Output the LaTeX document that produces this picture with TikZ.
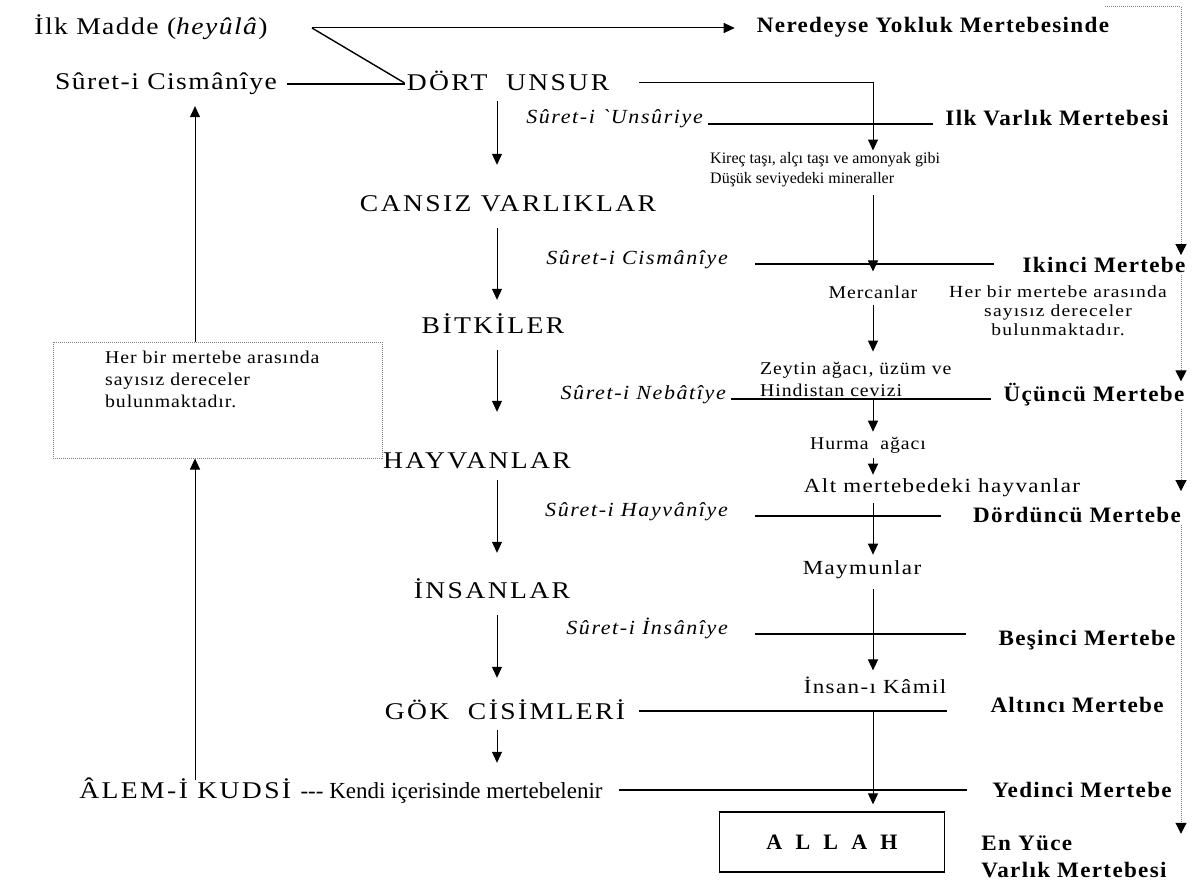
\documentclass[tikz,border=0pt]{standalone}
\usepackage{fontspec}
\setmainfont{Liberation Serif}
\newfontfamily\capfont[FakeStretch=1.15,LetterSpace=10]{Liberation Serif}
\newfontfamily\midfont[FakeStretch=1.15,LetterSpace=6]{Liberation Serif}
\newfontfamily\surfont[FakeStretch=1.1,LetterSpace=8]{Liberation Serif}
\newfontfamily\lvlfont[FakeStretch=1.05,LetterSpace=6]{Liberation Serif}
\newfontfamily\notefont[FakeStretch=1.1,LetterSpace=5]{Liberation Serif}
\newfontfamily\bignotefont[FakeStretch=1.15,LetterSpace=7]{Liberation Serif}
\newfontfamily\allahfont[LetterSpace=35]{Liberation Serif}
\usetikzlibrary{arrows.meta}
\begin{document}
\begin{tikzpicture}[x=1pt,y=-1pt,every node/.style={inner sep=2pt},
  stage/.style={font=\capfont\fontsize{24}{26}\selectfont,text height=16pt,text depth=0pt},
  lft/.style={font=\midfont\fontsize{24}{26}\selectfont},
  suret/.style={font=\surfont\itshape\fontsize{20}{22}\selectfont,anchor=base east},
  lvl/.style={font=\lvlfont\bfseries\fontsize{22}{27}\selectfont},
  note/.style={font=\notefont\fontsize{18}{22}\selectfont,align=left},
  bignote/.style={font=\bignotefont\fontsize{20}{24}\selectfont},
  arr/.style={-{Triangle[width=10pt,length=11pt]},line width=1pt},
  rule/.style={line width=1.4pt},
  dotarr/.style={densely dotted,gray,line width=1pt,-{Triangle[width=11pt,length=11pt,color=black]}}]
\useasboundingbox (0,0) rectangle (1200,891);
\fill[white] (0,0) rectangle (1200,891);
% left side
\node[lft] (ilk) at (151,27) {İlk Madde (\textit{heyûlâ})};
\node[lft] (sc) at (166,84) {Sûret-i Cismânîye};
\node[draw=gray,densely dotted,line width=1pt,minimum width=329pt,minimum height=116pt] (box) at (217.5,400) {};
\node[note,anchor=north west] (boxt) at (103,349) {Her bir mertebe arasında\\sayısız dereceler\\bulunmaktadır.};
% stages
\node[stage] (du) at (508,83) {DÖRT~~UNSUR};\node[stage] (cv) at (508,203) {CANSIZ VARLIKLAR};
\node[stage] (bt) at (493,325) {BİTKİLER};\node[stage] (hy) at (477,460) {HAYVANLAR};
\node[stage] (ins) at (492,590) {İNSANLAR};\node[stage] (gk) at (505,711) {GÖK~~CİSİMLERİ};
\node[stage] (alem) at (341,790) {ÂLEM-İ KUDSİ {\rmfamily\fontsize{23}{26}\selectfont -{}-{}- Kendi içerisinde mertebelenir}};
% suret labels
\node[suret] (s1) at (705,124) {Sûret-i `Unsûriye};\node[suret] (s2) at (730,264) {Sûret-i Cismânîye};
\node[suret] (s3) at (728,399) {Sûret-i Nebâtîye};\node[suret] (s4) at (730,516) {Sûret-i Hayvânîye};
\node[suret] (s5) at (730,634) {Sûret-i İnsânîye};
% levels
\node[lvl] (ny) at (933,27) {Neredeyse Yokluk Mertebesinde};
\node[lvl] (m1) at (1057,118) {Ilk Varlık Mertebesi};\node[lvl] (m2) at (1104,265) {Ikinci Mertebe};
\node[lvl] (m3) at (1094,395) {Üçüncü Mertebe};\node[lvl] (m4) at (1077,515) {Dördüncü Mertebe};
\node[lvl] (m5) at (1087,640) {Beşinci Mertebe};\node[lvl] (m6) at (1077,705) {Altıncı Mertebe};
\node[lvl] (m7) at (1082,790) {Yedinci Mertebe};\node[lvl,align=left] (m8) at (1074,857) {En Yüce\\Varlık Mertebesi};
% right column
\node[anchor=west,align=left,font=\fontsize{16}{20}\selectfont] (kir) at (708,170) {Kireç taşı, alçı taşı ve amonyak gibi\\Düşük seviyedeki mineraller};
\node[note] (mer) at (873,292) {Mercanlar};
\node[note,anchor=west] (zey) at (758,379) {Zeytin ağacı, üzüm ve\\Hindistan cevizi};
\node[note] (hur) at (868,445) {Hurma\ \ ağacı};
\node[bignote] (alt) at (942,488) {Alt mertebedeki hayvanlar};
\node[bignote] (may) at (862,570) {Maymunlar};\node[bignote] (ik) at (875,685) {İnsan-ı Kâmil};
\node[font=\bignotefont\fontsize{17}{19}\selectfont,align=center] (her) at (1058,311) {Her bir mertebe arasında\\sayısız dereceler\\bulunmaktadır.};
\node[draw,line width=1.3pt,minimum width=225pt,minimum height=60pt,font=\allahfont\bfseries\fontsize{22}{24}\selectfont] (allah) at (832,842) {A L L A H};
\coordinate (cx) at (497,0);\coordinate (rx) at (873,0);\coordinate (lx) at (195,0);
\coordinate (fork) at (312,28);\coordinate (rt) at (1181,7);\coordinate (dl) at (1105,7);
% top
\draw[arr,shorten >=20pt] (fork) -- (fork -| ny.west);
\draw[rule] (fork) -- (du.west);
\draw[rule,shorten <=8pt] (sc.east) -- (sc.east -| du.west);
% down the stages
\draw[arr,shorten <=8pt,shorten >=28pt] (du.south -| cx) -- (cv.north -| cx);
\draw[arr,shorten <=15pt,shorten >=15pt] (cv.south -| cx) -- (bt.north -| cx);
\draw[arr,shorten <=15pt,shorten >=38pt] (bt.south -| cx) -- (hy.north -| cx);
\draw[arr,shorten <=10pt,shorten >=27pt] (hy.south -| cx) -- (ins.north -| cx);
\draw[arr,shorten <=15pt,shorten >=23pt] (ins.south -| cx) -- (gk.north -| cx);
\draw[arr,shorten <=9pt,shorten >=17pt] (gk.south -| cx) -- (alem.north -| cx);
% back up on the left
\draw[arr] (alem.north -| lx) -- (box.south -| lx);
\draw[arr,shorten >=9pt] (box.north -| lx) -- (sc.south -| lx);
% right column
\draw[arr,shorten <=28pt] (du.east) -| (kir.north -| rx);
\draw[arr,shorten <=6pt,shorten >=12pt] (kir.south -| rx) -- (mer.north);
\draw[arr,shorten <=4pt,shorten >=8pt] (mer.south) -- (zey.north -| rx);
\draw[arr,shorten >=3pt] (zey.south -| rx) -- (hur.north -| rx);
\draw[arr,shorten <=3pt,shorten >=2pt] (hur.south -| rx) -- (alt.north -| rx);
\draw[arr,shorten <=4pt,shorten >=4pt] (alt.south -| rx) -- (may.north -| rx);
\draw[arr,shorten <=8pt,shorten >=4pt] (may.south -| rx) -- (ik.north -| rx);
\draw[arr,shorten >=7pt] (gk.east -| rx) -- (allah.north -| rx);
% level rules
\draw[rule,shorten <=3pt,shorten >=10pt] (s1.base east) -- (s1.base east -| m1.west);
\draw[rule,shorten <=25pt,shorten >=26pt] (s2.base east) -- (s2.base east -| m2.west);
\draw[rule,shorten <=3pt,shorten >=10pt] (s3.base east) -- (s3.base east -| m3.west);
\draw[rule,shorten <=25pt,shorten >=30pt] (s4.base east) -- (s4.base east -| m4.west);
\draw[rule,shorten <=25pt,shorten >=30pt] (s5.base east) -- (s5.base east -| m5.west);
\draw[rule,shorten <=12pt,shorten >=41pt] (gk.east) -- (gk.east -| m6.west);
\draw[rule,shorten <=14pt,shorten >=23pt] (alem.east) -- (alem.east -| m7.west);
% dotted bracket on the right
\draw[dotarr] (dl) -- (rt) -- (rt |- m2.north);
\draw[dotarr] (rt |- m2.south) -- (rt |- m3.north);
\draw[dotarr,shorten >=14pt] (rt |- m3.south) -- (rt |- m4.north);
\draw[dotarr] (rt |- m4.south) -- (rt |- m8.north);
\end{tikzpicture}
\end{document}
